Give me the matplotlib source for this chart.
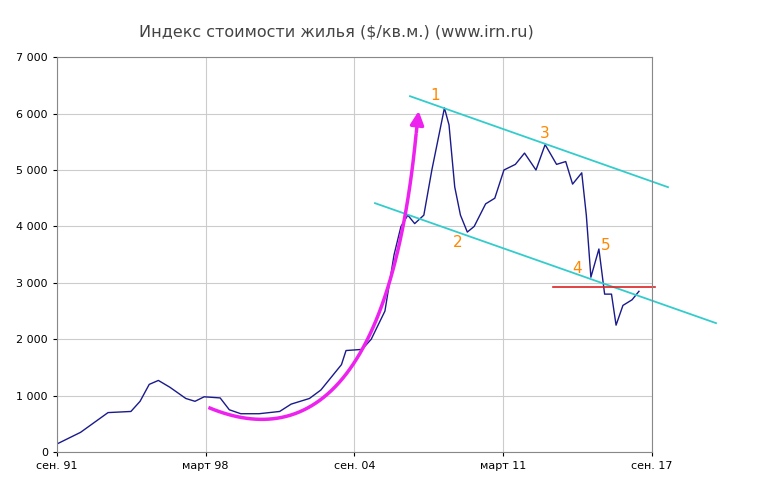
import numpy as np
import matplotlib
matplotlib.use("Agg")
import matplotlib.pyplot as plt

# данные индекса (год, $/кв.м.)
years = [1991.7, 1992.7, 1993.9, 1994.9, 1995.3, 1995.7, 1996.1, 1996.6, 1997.3, 1997.7,
         1998.1, 1998.8, 1999.2, 1999.7, 2000.5, 2001.4, 2001.9, 2002.3, 2002.7, 2003.2,
         2003.6, 2004.1, 2004.3, 2005.0, 2005.4, 2006.0, 2006.4, 2006.7, 2007.0, 2007.3,
         2007.7, 2008.05, 2008.4, 2008.6, 2008.8, 2009.05, 2009.3, 2009.6, 2009.9, 2010.4,
         2010.8, 2011.2, 2011.7, 2012.1, 2012.6, 2013.0, 2013.5, 2013.9, 2014.2, 2014.6,
         2014.8, 2015.0, 2015.35, 2015.6, 2015.9, 2016.1, 2016.4, 2016.8, 2017.1]
values = [150, 350, 700, 720, 900, 1200, 1270, 1150, 950, 900,
          980, 960, 750, 680, 680, 720, 850, 900, 950, 1100,
          1300, 1550, 1800, 1820, 2000, 2500, 3500, 4000, 4200, 4050,
          4200, 5000, 5700, 6100, 5800, 4700, 4200, 3900, 4000, 4400,
          4500, 5000, 5100, 5300, 5000, 5450, 5100, 5150, 4750, 4950,
          4200, 3100, 3600, 2800, 2800, 2250, 2600, 2700, 2850]
tick_pos = [1991.67, 1998.17, 2004.67, 2011.17, 2017.67]
tick_labels = ["сен. 91", "март 98", "сен. 04", "март 11", "сен. 17"]

def px(x, y):
    """перевод пикселей картинки в координаты данных"""
    return 1991.67 + (x - 57) / 22.885, (452 - y) / 56.43 * 1000

fig = plt.figure(figsize=(7.64, 4.93), dpi=100)
ax = fig.add_axes([0.0746, 0.083, 0.7788, 0.801])
ax.plot(years, values, color="#1a1a8c", lw=1)

# трендовые линии
for a, b in [((410, 96), (668, 187)), ((375, 203), (716, 323))]:
    p, q = px(*a), px(*b)
    ax.plot([p[0], q[0]], [p[1], q[1]], color="#33cccc", lw=1.3, clip_on=False)
p, q = px(553, 287), px(655, 287)
ax.plot([p[0], q[0]], [p[1], q[1]], color="#dd2222", lw=1.2, clip_on=False)

# стрелка роста (кубическая кривая Безье)
P = np.array([px(210, 408), px(300, 445), px(390, 400), px(416, 135)])
t = np.linspace(0, 1, 60)[:, None]
curve = (1 - t) ** 3 * P[0] + 3 * (1 - t) ** 2 * t * P[1] + 3 * (1 - t) * t ** 2 * P[2] + t ** 3 * P[3]
ax.plot(curve[:, 0], curve[:, 1], color="#ee22ee", lw=2.5)
ax.annotate("", xy=px(419, 108), xytext=tuple(curve[-1]),
            arrowprops=dict(arrowstyle="-|>,head_width=0.4,head_length=0.8", color="#ee22ee", lw=2.5))

for s_, (x, y) in [("1", (435, 95)), ("2", (458, 242)), ("3", (545, 133)), ("4", (577, 268)), ("5", (606, 245))]:
    ax.text(*px(x, y), s_, color="#ff8800", fontsize=11, ha="center", va="center")

ax.set_xlim(1991.67, 2017.67)
ax.set_ylim(0, 7000)
ax.set_xticks(tick_pos, tick_labels)
ax.set_yticks(range(0, 7001, 1000), [f"{v:,}".replace(",", " ") for v in range(0, 7001, 1000)])
ax.grid(color="#cccccc", lw=0.8)
ax.tick_params(labelsize=8, length=3)
for s in ax.spines.values():
    s.set_color("#888888")
fig.text(0.44, 0.925, "Индекс стоимости жилья ($/кв.м.) (www.irn.ru)", ha="center", fontsize=11.5, color="#444444")
fig.savefig("out.png")
